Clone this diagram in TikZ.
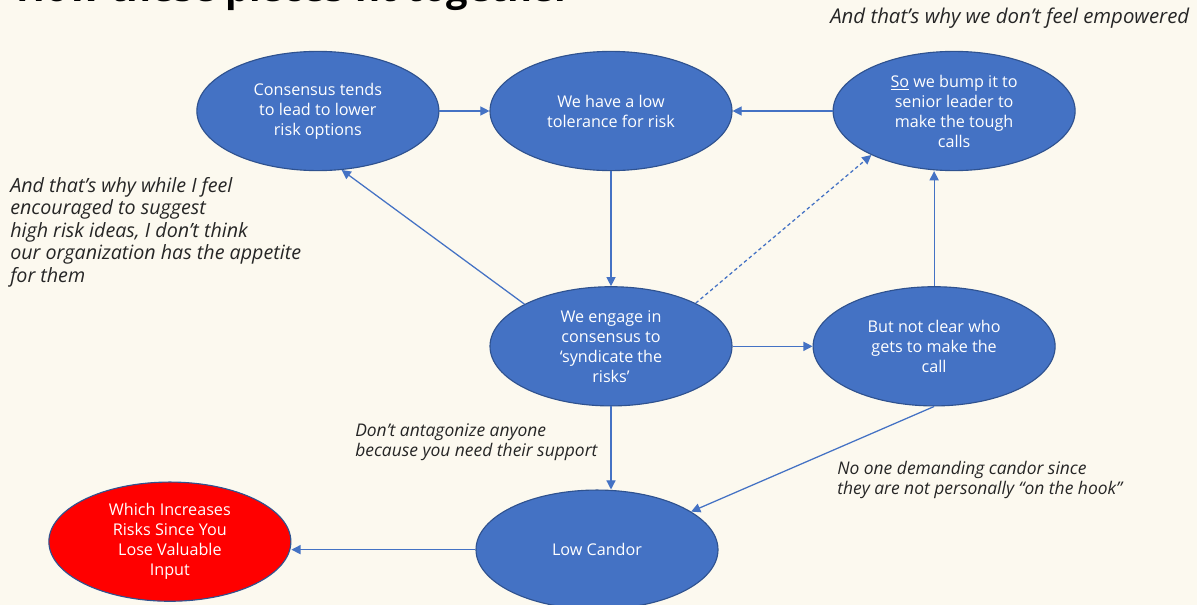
\documentclass[tikz,border=0pt]{standalone}
\usepackage{fontspec}
\setmainfont{Open Sans}
\usepackage{xcolor}
\usetikzlibrary{shapes.geometric,arrows.meta,positioning,calc}

\definecolor{bgcream}{HTML}{FCF9EF}
\definecolor{ideablue}{HTML}{4472C4}
\definecolor{rimblue}{HTML}{2F528F}
\definecolor{notegray}{HTML}{262626}

\begin{document}
\begin{tikzpicture}[
    node distance=1.25cm,
    idea/.style={ellipse, draw=rimblue, line width=0.8pt, fill=ideablue, text=white, minimum width=6.05cm, minimum height=2.98cm, inner sep=0pt, align=center, font=\fontsize{11.5}{14.2}\selectfont},
    risk/.style={idea, fill=red},
    note/.style={inner sep=0pt, align=left, text=notegray, font=\itshape\fontsize{12.4}{14.3}\selectfont},
    arrow/.style={-{Triangle[length=6.5pt,width=6.5pt]}, line width=0.9pt, draw=ideablue},
    dasharrow/.style={arrow, dash pattern=on 2.5pt off 2pt}
]

\useasboundingbox (0,0) rectangle (29.925,-15.125);
\fill[bgcream] (0,0) rectangle (29.925,-15.125);

\node[anchor=base west, inner sep=0pt, font=\bfseries\fontsize{27}{30}\selectfont] (title) at (0.4,-0.05) {How these pieces fit together};

\node[idea] (lowtol) at (15.275,-2.775) {We have a low\\tolerance for risk};
\node[idea, left=of lowtol] (cons) {Consensus tends\\to lead to lower\\risk options};
\node[idea, right=2.5cm of lowtol] (bump) {\underline{So} we bump it to\\senior leader to\\make the tough\\calls};
\node[idea, below=2.875cm of lowtol] (engage) {We engage in\\consensus to\\‘syndicate the\\risks’};
\node[idea, right=2.0cm of engage] (notclear) {But not clear who\\gets to make the\\call};
\node[idea, below=2.075cm of engage, xshift=-0.35cm] (lowcandor) {Low Candor};
\node[risk, left=4.6cm of lowcandor, yshift=0.2cm] (risk) {Which Increases\\Risks Since You\\Lose Valuable\\Input};

\node[note, anchor=west, font=\itshape\fontsize{14.5}{16}\selectfont] (empower) at (20.75,-0.45) {And that’s why we don’t feel empowered};
\node[note, anchor=north west, font=\itshape\fontsize{14}{16}\selectfont] (appetite) at (0.25,-4.42) {And that’s why while I feel\\encouraged to suggest\\high risk ideas, I don’t think\\our organization has the appetite\\for them};
\node[note, anchor=north west] (support) at (8.875,-10.575) {Don’t antagonize anyone\\because you need their support};
\node[note, anchor=north west] (hook) at (20.925,-11.525) {No one demanding candor since\\they are not personally “on the hook”};

\draw[arrow] (cons) -- (lowtol);
\draw[arrow] (bump) -- (lowtol);
\draw[arrow] (lowtol) -- (engage);
\draw[arrow] (engage.154) -- (cons.-68);
\draw[dasharrow] (engage.27) -- (bump.208);
\draw[arrow] (engage) -- (notclear);
\draw[arrow] (notclear.north) -- (notclear.north |- bump.south);
\draw[arrow] (engage.south) -- (engage.south |- lowcandor.north);
\draw[arrow] (notclear.south) -- (lowcandor.22);
\draw[arrow] (lowcandor.west) -- (lowcandor.west -| risk.east);

\end{tikzpicture}
\end{document}
